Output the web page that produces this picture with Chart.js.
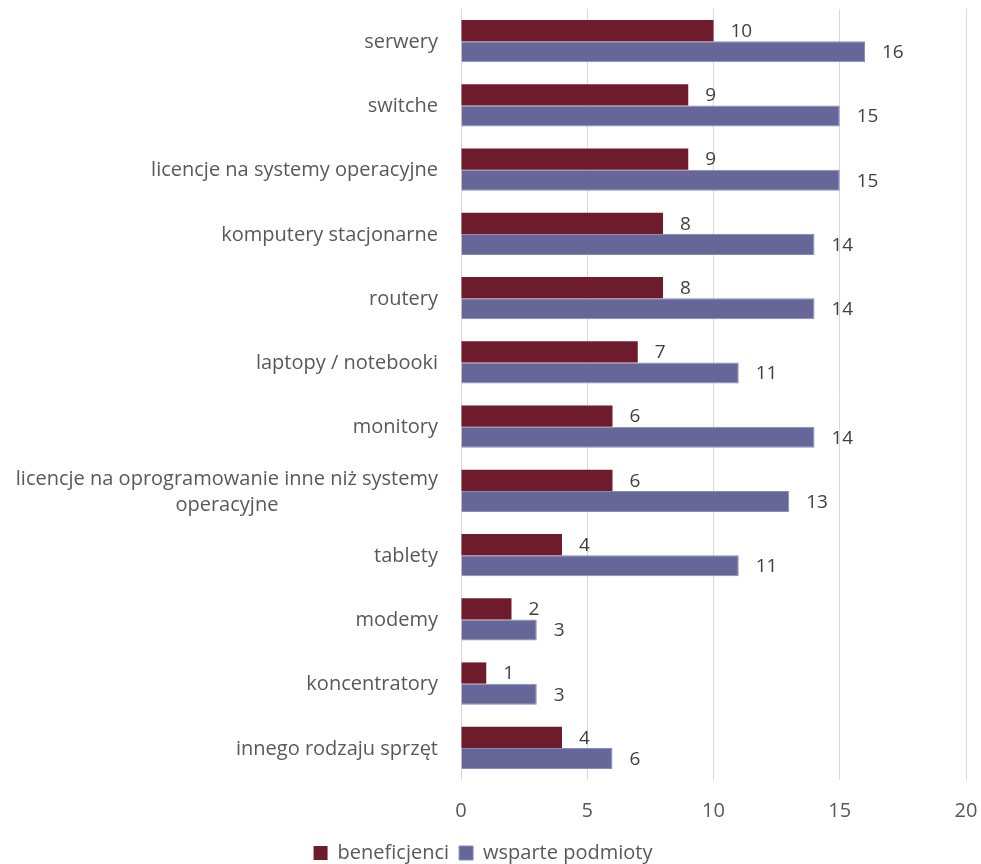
<!DOCTYPE html>
<html>
<head>
<meta charset="utf-8">
<script src="https://cdn.jsdelivr.net/npm/chart.js@4/dist/chart.umd.min.js"></script>
<style>
  html, body { margin: 0; padding: 0; background: #ffffff; }
  #wrap { width: 981px; height: 864px; position: relative; }
</style>
</head>
<body>
<div id="wrap"><canvas id="c" width="981" height="864"></canvas></div>
<script>
// Equipment and software categories (each may be split into display lines)
const categories = [
  ['serwery'],
  ['switche'],
  ['licencje na systemy operacyjne'],
  ['komputery stacjonarne'],
  ['routery'],
  ['laptopy / notebooki'],
  ['monitory'],
  ['licencje na oprogramowanie inne niż systemy', 'operacyjne'],
  ['tablety'],
  ['modemy'],
  ['koncentratory'],
  ['innego rodzaju sprzęt']
];
const beneficjenci = [10, 9, 9, 8, 8, 7, 6, 6, 4, 2, 1, 4];
const wspartePodmioty = [16, 15, 15, 14, 14, 11, 14, 13, 11, 3, 3, 6];
const seriesNames = ['beneficjenci', 'wsparte podmioty'];
const xTicks = [0, 5, 10, 15, 20];

const FONT = '"Open Sans", "Noto Sans", sans-serif';
const TEXT_GREY = '#595959';

// Category labels: right-aligned block, extra lines centred under the first
const categoryLabels = {
  id: 'categoryLabels',
  afterDraw(chart) {
    const y = chart.scales.y;
    const ctx = chart.ctx;
    const right = chart.chartArea.left - 23;
    const lineH = 26;
    ctx.save();
    ctx.font = '20px ' + FONT;
    ctx.fillStyle = TEXT_GREY;
    ctx.textBaseline = 'middle';
    categories.forEach((lines, i) => {
      const cy = y.getPixelForTick(i) + 1;
      const widths = lines.map(l => ctx.measureText(l).width);
      const maxW = Math.max(...widths);
      const centreX = right - maxW / 2;
      const y0 = cy - (lines.length - 1) * lineH / 2;
      lines.forEach((l, k) => {
        ctx.textAlign = lines.length > 1 ? 'center' : 'right';
        ctx.fillText(l, lines.length > 1 ? centreX : right, y0 + k * lineH);
      });
    });
    ctx.restore();
  }
};

// Value labels just past the end of each bar
const valueLabels = {
  id: 'valueLabels',
  afterDatasetsDraw(chart) {
    const ctx = chart.ctx;
    ctx.save();
    ctx.font = '19px ' + FONT;
    ctx.fillStyle = '#404040';
    ctx.textAlign = 'left';
    ctx.textBaseline = 'middle';
    chart.data.datasets.forEach((ds, di) => {
      const meta = chart.getDatasetMeta(di);
      meta.data.forEach((el, i) => {
        ctx.fillText(String(ds.data[i]), el.x + 17, el.y + 1);
      });
    });
    ctx.restore();
  }
};

new Chart(document.getElementById('c'), {
  type: 'bar',
  data: {
    labels: categories.map(l => l.join(' ')),
    datasets: [
      {
        label: seriesNames[0],
        data: beneficjenci,
        backgroundColor: '#6e1c2c',
        borderWidth: 0
      },
      {
        label: seriesNames[1],
        data: wspartePodmioty,
        backgroundColor: '#666699',
        borderColor: '#8a8abb',
        borderWidth: 1
      }
    ]
  },
  options: {
    indexAxis: 'y',
    responsive: false,
    animation: false,
    devicePixelRatio: 1,
    layout: { padding: { top: 9, right: 15, bottom: -9, left: 0 } },
    datasets: {
      bar: { categoryPercentage: 0.66, barPercentage: 1.0 }
    },
    scales: {
      x: {
        min: 0,
        max: 20,
        afterBuildTicks(scale) {
          scale.ticks = xTicks.map(v => ({ value: v }));
        },
        afterFit(scale) {
          scale.height = 53;
          scale.paddingLeft = 0;
          scale.paddingRight = 0;
        },
        grid: { color: '#d9d9d9', lineWidth: 1, drawTicks: false },
        border: { display: false },
        ticks: {
          padding: 19,
          color: TEXT_GREY,
          font: { family: FONT, size: 20 }
        }
      },
      y: {
        afterFit(scale) { scale.width = 461; },
        grid: { display: false },
        border: { display: false },
        ticks: { display: false }
      }
    },
    plugins: {
      legend: {
        position: 'bottom',
        labels: {
          boxWidth: 14,
          boxHeight: 14,
          padding: 10,
          color: TEXT_GREY,
          font: { family: FONT, size: 20 }
        }
      },
      tooltip: { enabled: false }
    }
  },
  plugins: [categoryLabels, valueLabels]
});
</script>
</body>
</html>
